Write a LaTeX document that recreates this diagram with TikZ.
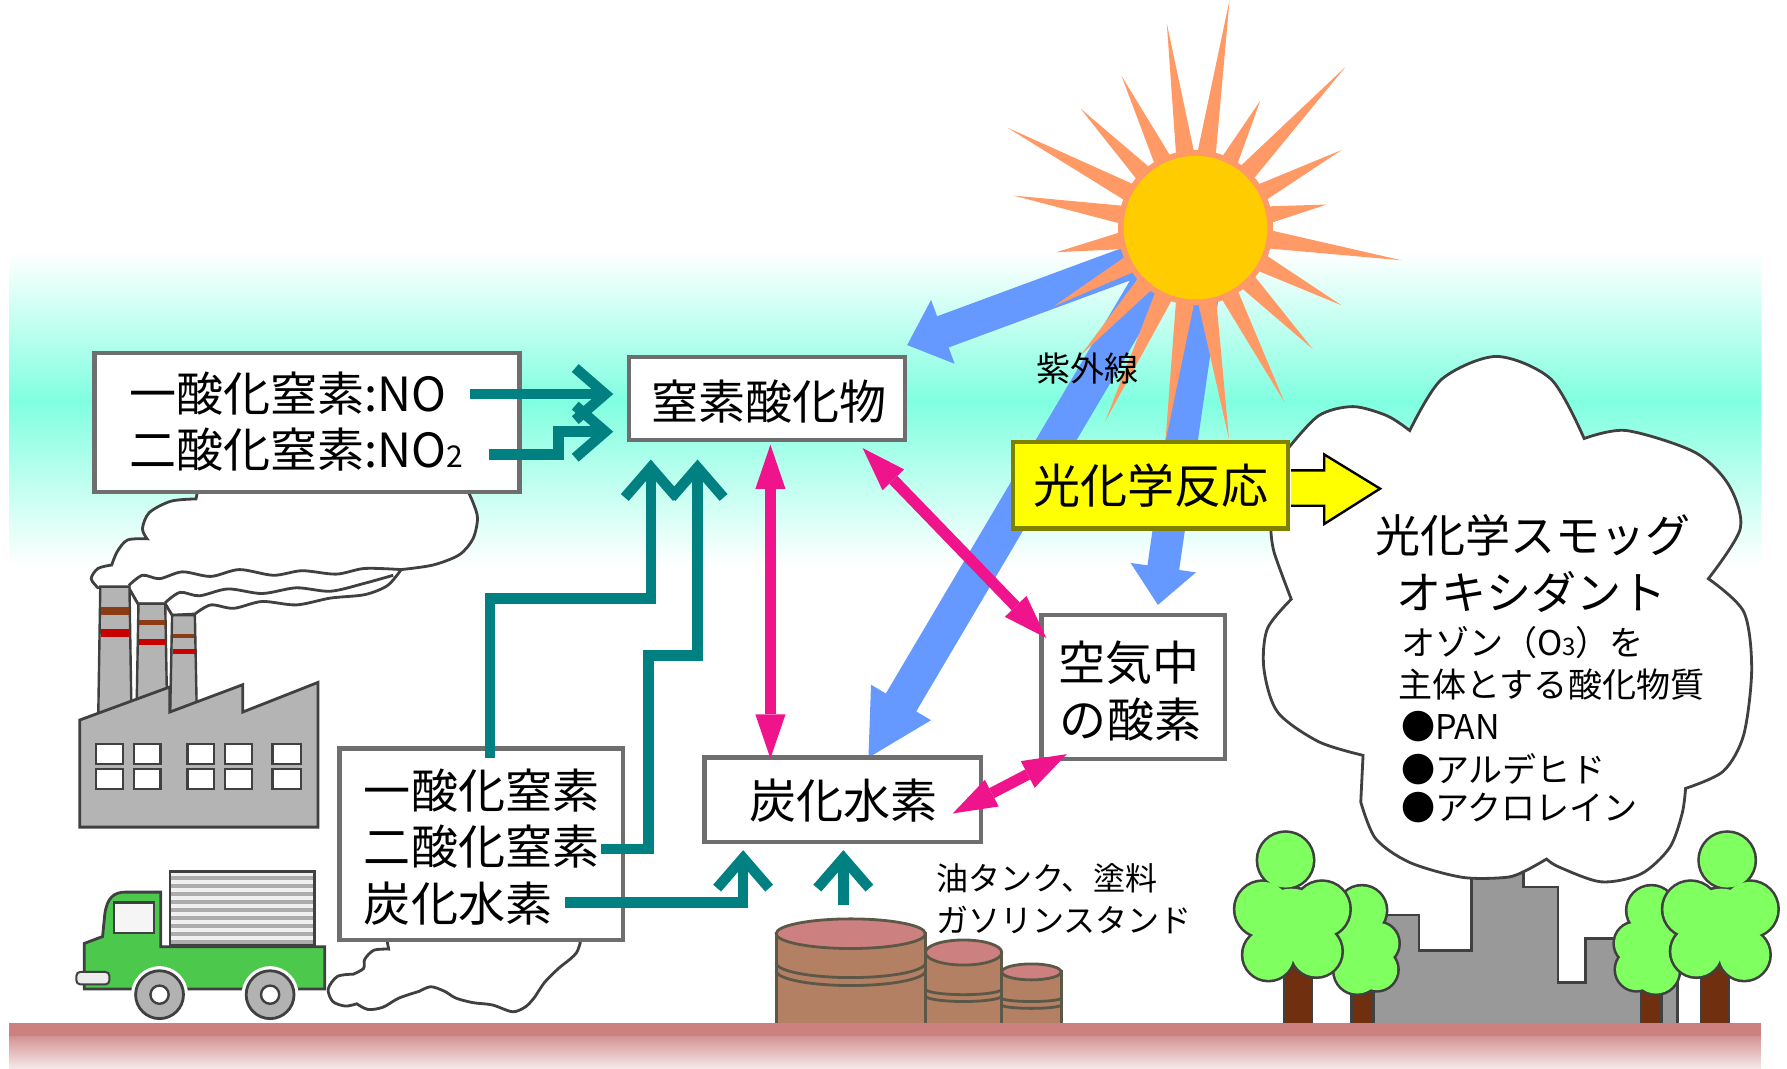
\documentclass[tikz,border=0pt]{standalone}
\usepackage{fontspec}
\setmainfont{Noto Sans CJK JP}
\usetikzlibrary{calc,arrows.meta}

\definecolor{skycyan}{RGB}{128,255,224}
\definecolor{groundpink}{RGB}{204,128,128}
\definecolor{groundpale}{RGB}{246,234,234}
\definecolor{rayorange}{RGB}{255,153,102}
\definecolor{sundisk}{RGB}{255,204,0}
\definecolor{uvblue}{RGB}{102,153,255}
\definecolor{flowteal}{RGB}{0,128,128}
\definecolor{reactpink}{RGB}{240,20,140}
\definecolor{boxedge}{RGB}{110,110,110}
\definecolor{inkgray}{RGB}{64,64,64}
\definecolor{plantgray}{RGB}{180,180,180}
\definecolor{citygray}{RGB}{153,153,153}
\definecolor{leaf}{RGB}{128,255,96}
\definecolor{bark}{RGB}{112,48,16}
\definecolor{truckgreen}{RGB}{76,200,76}
\definecolor{tankbody}{RGB}{180,128,100}
\definecolor{tanktop}{RGB}{204,128,128}
\definecolor{tankedge}{RGB}{92,88,72}
\definecolor{stackband}{RGB}{140,60,20}
\definecolor{stackred}{RGB}{200,0,0}
\definecolor{signyellow}{RGB}{255,255,0}
\definecolor{signedge}{RGB}{128,128,0}

% broad filled arrow: start, tip, half shaft, head length, half head, colour
\newcommand{\fatarrow}[6]{%
  \coordinate (fa-base) at ($(#2)!#4!(#1)$);
  \fill[#6] ($(#1)!#3!90:(#2)$) -- ($(fa-base)!#3!-90:(#1)$) -- ($(fa-base)!#5!-90:(#1)$)
    -- (#2) -- ($(fa-base)!#5!90:(#1)$) -- ($(fa-base)!#3!90:(#1)$) -- ($(#1)!#3!-90:(#2)$) -- cycle;
}

\tikzset{
  labelbox/.style={draw=boxedge, line width=2.2pt, fill=white, inner sep=0pt},
  bigtext/.style={inner sep=0pt, font=\fontsize{23.5}{28}\selectfont},
  midtext/.style={inner sep=0pt, font=\fontsize{22.5}{27}\selectfont},
  smalltext/.style={inner sep=0pt, font=\fontsize{17}{20}\selectfont},
  tanktext/.style={inner sep=0pt, font=\fontsize{16}{19}\selectfont},
  flow/.style={draw=flowteal, line width=5.2pt, -{Straight Barb[length=15pt,width=26pt]}},
  react/.style={draw=reactpink, line width=5.6pt,
    {Triangle[length=22pt,width=15pt,line width=0pt]}-{Triangle[length=22pt,width=15pt,line width=0pt]}},
  ink/.style={draw=inkgray, line width=1.4pt},
  puff/.style={ink, fill=white},
  leafedge/.style={draw=inkgray, line width=2.6pt},
}

\begin{document}
\begin{tikzpicture}[x=0.2mm, y=-0.2mm]
% canvas
\fill[white] (0,0) rectangle (1568,936);

% sky band
\shade[top color=white, bottom color=skycyan] (8,219) rectangle (1545,350.5);
\shade[top color=skycyan, bottom color=white] (8,350) rectangle (1545,495);

% sun position and ultraviolet arrows
\coordinate (sun) at (1049,198);
\coordinate (uvA) at (1018,219);
\coordinate (uvB) at (1012,240);
\coordinate (uvC) at (1060,225);
\coordinate (uvAtip) at (796,301);
\coordinate (uvBtip) at (762,663);
\coordinate (uvCtip) at (1016,529);
\fatarrow{uvA}{uvAtip}{8.3pt}{19pt}{17pt}{uvblue}
\fatarrow{uvB}{uvBtip}{8.8pt}{32pt}{17.4pt}{uvblue}
\fatarrow{uvC}{uvCtip}{8pt}{18.8pt}{16.5pt}{uvblue}

% sun rays and disk
\foreach \a/\l in {81.5/202,98/181,116/148,134/145,152/187,170/162,190/124,209/142,228/150,245/187,262/190,279/188,297/172,314/148,332/145,351/183,10/117,28/145,47/193,63/125}{
  \fill[rayorange] ({1049+58*cos(\a-8.5)},{198-58*sin(\a-8.5)}) -- ({1049+\l*cos(\a)},{198-\l*sin(\a)}) -- ({1049+58*cos(\a+8.5)},{198-58*sin(\a+8.5)}) -- cycle;
}
\fill[rayorange] (sun) circle (68);
\fill[sundisk] (sun) circle (63);

% factory smoke
\filldraw[puff] (174,426) -- (172,436)
  -- plot[smooth] coordinates {(172,436) (150,438) (131,448) (125,462) (129,471)}
  -- plot[smooth] coordinates {(129,471) (112,472) (103,482) (98,494)}
  -- plot[smooth] coordinates {(98,494) (86,497) (80,506) (86,514)}
  -- (113,514) -- (121,528) -- (145,528) -- (151,538)
  -- plot[smooth] coordinates {(171,537) (185,529) (205,532) (230,526) (260,529) (290,523) (320,520) (340,512) (352,498)}
  -- plot[smooth] coordinates {(352,498) (380,494) (403,485) (415,471) (419,453) (415,439) (409,426)}
  -- cycle;
\draw[ink] plot[smooth] coordinates {(113,512) (125,503) (140,506) (160,500) (185,504) (210,498) (240,503) (265,499) (295,502) (320,497) (352,498)};
\draw[ink] plot[smooth] coordinates {(145,527) (158,518) (175,521) (200,515) (230,519) (260,514) (290,517) (320,510) (345,503)};

% chimneys
\foreach \l/\r/\t in {88/113.6/513, 121.5/145/528, 151/171/538}{
  \filldraw[fill=plantgray, draw=inkgray, line width=1.2pt] (\l,\t) -- (\r,\t) -- ({\r+2},640) -- ({\l-2},640) -- cycle;
}
\fill[stackband] (88.6,531) rectangle (113,538);
\fill[stackred] (88.3,550) rectangle (113.3,557);
\fill[stackband] (122,542) rectangle (144.6,547);
\fill[stackred] (122,559) rectangle (144.8,564);
\fill[stackband] (151.5,554.5) rectangle (170.6,558);
\fill[stackred] (151.5,567.5) rectangle (170.8,572);

% factory hall
\filldraw[fill=plantgray, draw=inkgray, line width=1.4pt]
  (70,724) -- (70,630) -- (149,601) -- (149,623) -- (213,599) -- (213,623) -- (279,597) -- (279,724) -- cycle;
\foreach \x/\w in {84/24, 117.5/23.5, 164.5/23.5, 197.5/23.5, 239/25}
  \foreach \y in {651,673}
    \filldraw[fill=white, draw=inkgray, line width=1.2pt] (\x,\y) rectangle ++(\w,17.5);

% truck exhaust
\filldraw[puff] (339,820) -- (341,831)
  -- plot[smooth] coordinates {(341,831) (328,832) (320,840) (319,848) (310,853)}
  -- plot[smooth] coordinates {(310,853) (296,855) (288,866) (292,877) (303,881) (313,879)}
  -- plot[smooth] coordinates {(313,879) (323,884) (336,882) (350,874) (368,868)}
  -- plot[smooth] coordinates {(368,868) (378,864) (390,868) (400,874) (415,878) (432,880) (450,886) (462,881) (470,872)}
  -- plot[smooth] coordinates {(470,872) (478,860) (490,848) (500,840) (506,834) (509,826)}
  -- (509,820) -- cycle;

% truck
\fill[gray!12] (149,763) rectangle (276,828);
\foreach \i in {0,...,8} \fill[gray!65] (149,{767+\i*7}) rectangle (276,{770.5+\i*7});
\draw[inkgray, line width=1.2pt] (149,763) rectangle (276,828);
\filldraw[fill=truckgreen, draw=inkgray, line width=1.4pt]
  (74,866) -- (74,826) -- (90,820) -- (92,800) .. controls (94,786) and (100,781) .. (110,781)
  -- (141,781) -- (141,829) -- (285,829) -- (285,866) -- cycle;
\filldraw[fill=gray!8, draw=inkgray, line width=1.2pt] (100,790) rectangle (135,817);
\filldraw[fill=gray!15, draw=inkgray, line width=1pt, rounded corners=2pt] (67,851) rectangle (96,862);
\foreach \c in {140,237}{
  \fill[white] (\c,871) circle (25);
  \filldraw[fill=gray!60, draw=inkgray, line width=1.4pt] (\c,871) circle (21);
  \filldraw[fill=white, draw=inkgray, line width=1.2pt] (\c,871) circle (8);
}

% storage tanks
\foreach \xa/\xb/\cx/\cy/\rx/\ry in {879/931.5/905/851/26/7, 812/879/845.5/834/33.5/11, 681/812/746.5/817.5/65.5/13}{
  \filldraw[fill=tankbody, draw=tankedge, line width=1.4pt] (\xa,\cy) -- (\xa,900) -- (\xb,900) -- (\xb,\cy) -- cycle;
  \filldraw[fill=tanktop, draw=tankedge, line width=1.4pt] (\cx,\cy) ellipse [x radius=\rx, y radius=\ry];
}
\foreach \cy in {843,850}
  \draw[tankedge, line width=1.4pt] plot[domain=0:180, samples=30] ({746.5+65.5*cos(\x)},{\cy+13*sin(\x)});
\foreach \cy in {866,872}
  \draw[tankedge, line width=1.4pt] plot[domain=0:180, samples=30] ({845.5+33.5*cos(\x)},{\cy+5*sin(\x)});
\foreach \cy in {874,880}
  \draw[tankedge, line width=1.4pt] plot[domain=0:180, samples=30] ({905+26*cos(\x)},{\cy+3*sin(\x)});

% city blocks
\filldraw[fill=citygray, draw=inkgray, line width=1.4pt]
  (1205,900) -- (1205,801) -- (1245,801) -- (1245,832) -- (1291,832) -- (1291,740) -- (1337,740)
  -- (1337,776.5) -- (1367,776.5) -- (1367,860) -- (1391,860) -- (1391,822) -- (1472,822) -- (1472,900) -- cycle;

% trees: small ones behind, large ones in front
\foreach \tx/\s in {0/1, 2644/-1}{
  \filldraw[fill=bark, draw=inkgray, line width=1.2pt] ({\tx+\s*1186},845) rectangle ({\tx+\s*1204},900);
  \foreach \cx/\cy/\r in {1195/797/21, 1181/824/18, 1209/826/18, 1191/850/20, 1208/849/18, 1195/826/22}
    \draw[leafedge] ({\tx+\s*\cx},\cy) circle (\r);
  \foreach \cx/\cy/\r in {1195/797/21, 1181/824/18, 1209/826/18, 1191/850/20, 1208/849/18, 1195/826/22}
    \fill[leaf] ({\tx+\s*\cx},\cy) circle (\r);
}
\foreach \tx/\s in {0/1, 2643.5/-1}{
  \filldraw[fill=bark, draw=inkgray, line width=1.2pt] ({\tx+\s*1127},835) rectangle ({\tx+\s*1151},900);
  \foreach \cx/\cy/\r in {1128/753/24, 1108/796/24, 1160/796/24, 1113/836/22, 1155/833/22, 1133/808/30}
    \draw[leafedge] ({\tx+\s*\cx},\cy) circle (\r);
  \foreach \cx/\cy/\r in {1128/753/24, 1108/796/24, 1160/796/24, 1113/836/22, 1155/833/22, 1133/808/30}
    \fill[leaf] ({\tx+\s*\cx},\cy) circle (\r);
}

% smog cloud
\filldraw[fill=white, draw=inkgray, line width=1.4pt] (1120,430) -- (1130,392)
  -- plot[smooth] coordinates {(1130,392) (1157,363) (1187,355) (1217,363) (1237,376)}
  -- plot[smooth] coordinates {(1237,376) (1265,331) (1313,311) (1361,331) (1390,383)}
  -- plot[smooth] coordinates {(1390,383) (1427,376) (1487,395) (1517,424) (1527,462) (1499,506)}
  -- plot[smooth] coordinates {(1499,506) (1530,535) (1537,585) (1530,643) (1512,675) (1479,690)}
  -- plot[smooth] coordinates {(1479,690) (1476,712) (1465,742) (1440,765) (1405,772) (1368,759) (1357,752)}
  -- plot[smooth] coordinates {(1357,752) (1339,762) (1322,768) (1283,768) (1237,755) (1207,734) (1194,702)}
  -- (1196,661)
  -- plot[smooth] coordinates {(1196,661) (1157,649) (1121,623) (1109,585) (1112,550) (1133,524)}
  -- plot[smooth] coordinates {(1133,524) (1118,483) (1115,462)}
  -- (1120,450) -- cycle;

% ground
\fill[groundpink] (8,896) rectangle (1545,908);
\shade[top color=groundpink!85!white, bottom color=groundpale] (8,907.5) rectangle (1545,936);

% boxes
\node[labelbox, minimum width=74.6mm, minimum height=24.4mm] (boxA) at (269.5,369) {};
\node[labelbox, minimum width=48.4mm, minimum height=14.6mm] (boxB) at (673,348) {};
\node[labelbox, minimum width=49.7mm, minimum height=33.6mm] (boxC) at (422.3,739) {};
\node[labelbox, minimum width=48.6mm, minimum height=14.9mm] (boxD) at (739.5,700) {};
\node[labelbox, minimum width=32.2mm, minimum height=25.2mm] (boxE) at (994.5,601) {};

% texts in the boxes
\node[bigtext, anchor=west] (tNO) at (113,344) {一酸化窒素:NO};
\node[bigtext, anchor=west] (tNO2) at (113,393) {二酸化窒素:NO{\fontsize{15}{15}\selectfont 2}};
\node[bigtext] (tB) at (675,351) {窒素酸化物};
\node[bigtext, anchor=west] (tC1) at (319,692) {一酸化窒素};
\node[bigtext, anchor=west] (tC2) at (319,741) {二酸化窒素};
\node[bigtext, anchor=west] (tC3) at (319,791) {炭化水素};
\node[bigtext] (tD) at (740,700.5) {炭化水素};
\node[bigtext] (tE1) at (991,580) {空気中};
\node[bigtext] (tE2) at (992,629.5) {の酸素};

% emission flows
\coordinate (noOut) at (412,344);
\coordinate (no2Out) at (429,397);
\coordinate (c2Out) at (527,743);
\coordinate (c3Out) at (496,790);
\coordinate (tankOut) at (740,792);
\draw[flow] (noOut) -- (noOut -| {$(boxB.west)+(-12,0)$});
\draw[flow] (no2Out) -- ++(61,0) |- ($(boxB.west)+(-12,29)$);
\draw[flow] ($(boxC.north west)+(134,10)$) |- ($(boxB.south west)+(21,137)$) -- ($(boxB.south west)+(21,15)$);
\draw[flow] (c2Out) -| ($(boxB.south west)+(19,187)$) -| ($(boxB.south west)+(62,15)$);
\draw[flow] (c3Out) -| ($(boxD.south west)+(36,5)$);
\draw[flow] (tankOut) -- (tankOut |- {$(boxD.south)+(0,5)$});

% reactions
\draw[react] ($(boxB.south)+(3,2)$) -- ($(boxD.north)+(-63.5,3)$);
\draw[react] ($(boxB.south east)+(-39,5)$) -- ($(boxE.north west)+(6,22)$);
\draw[react] ($(boxD.east)+(-27,12)$) -- ($(boxE.south west)+(24,-6)$);

% photochemical reaction sign
\node[draw=signedge, line width=2.2pt, fill=signyellow, inner sep=0pt, minimum width=48.2mm, minimum height=15.2mm] (boxF) at (1009.5,424) {};
\filldraw[fill=signyellow, draw=black, line width=1.2pt]
  ($(boxF.east)+(1,-13)$) -- ($(boxF.east)+(30,-13)$) -- ($(boxF.east)+(30,-27)$) -- ($(boxF.east)+(79,3)$)
  -- ($(boxF.east)+(30,34)$) -- ($(boxF.east)+(30,18)$) -- ($(boxF.east)+(1,18)$);
\node[bigtext] (tF) at (1010,424.5) {光化学反応};

% labels
\node[smalltext] (uvLabel) at (954,322) {紫外線};
\node[midtext] (smog1) at (1345,468) {光化学スモッグ};
\node[midtext] (smog2) at (1344,518) {オキシダント};
\node[smalltext, anchor=west] (smog3) at (1229,562) {オゾン（O{\fontsize{12}{12}\selectfont 3}）を};
\node[smalltext, anchor=west] (smog4) at (1227,599) {主体とする酸化物質};
\node[smalltext, anchor=west] (smog5) at (1229,636) {●PAN};
\node[smalltext, anchor=west] (smog6) at (1229,673) {●アルデヒド};
\node[smalltext, anchor=west] (smog7) at (1229,707) {●アクロレイン};
\node[tanktext, anchor=west] (tank1) at (821,768.5) {油タンク、塗料};
\node[tanktext, anchor=west] (tank2) at (821,805.7) {ガソリンスタンド};
\end{tikzpicture}
\end{document}
